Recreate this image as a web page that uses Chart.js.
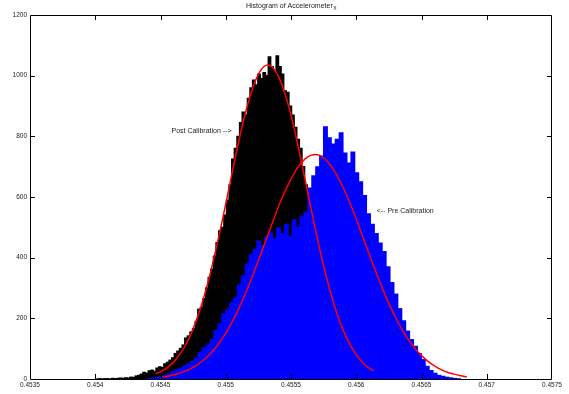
<!DOCTYPE html>
<html>
<head>
<meta charset="utf-8">
<script src="https://cdn.jsdelivr.net/npm/chart.js@4.4.1/dist/chart.umd.min.js"></script>
<style>
html,body{margin:0;padding:0;background:#fff;}
canvas{display:block;}
</style>
</head>
<body>
<canvas id="c" width="569" height="394"></canvas>
<script>
// ---------- data ----------
const titleMain = "Histogram of Accelerometer";
const titleSub = "X";
const xTickValues = [0.4535, 0.454, 0.4545, 0.455, 0.4555, 0.456, 0.4565, 0.457, 0.4575];
const yTickValues = [0, 200, 400, 600, 800, 1000, 1200];

// Post calibration histogram (black)
const postBinStart = 0.454015;
const postBinWidth = 0.00002;
const postCounts = [
  0,1,0,1,1,0,2,1,2,3,
  2,4,3,6,5,10,12,16,22,19,
  27,29,25,36,40,38,50,55,62,70,
  84,92,101,112,135,142,155,166,190,230,
  236,265,300,335,362,405,450,488,500,540,
  590,640,725,760,800,845,880,870,925,960,
  985,970,1005,990,1010,1000,1062,1030,1015,1065,
  1030,1005,950,945,900,870,830,790,760,700,
  640,590,545,500,455,420,380,345,310,280,
  250,220,195,170,150,130,112,96,82,70,
  58,48,40,33,27,22,17,13,10,7,
  5
];

// Pre calibration histogram (blue)
const preBinStart = 0.454414;
const preBinWidth = 0.00003;
const preCounts = [
  2,3,5,8,12,18,24,30,36,43,
  50,58,70,88,104,112,130,160,182,215,
  228,252,268,310,340,380,410,428,455,440,
  470,485,462,498,480,510,470,525,500,535,
  550,630,670,700,735,832,795,775,790,812,
  745,712,748,680,650,605,545,510,480,448,
  420,370,318,280,232,192,158,130,108,84,
  64,42,28,19,12,9,6,4,2,1
];

// Fitted normal curves (red)
const postFitX = [0.454463,0.454513,0.454563,0.454612,0.454662,0.454712,0.454761,0.454811,0.454861,0.454910,
  0.454960,0.455010,0.455060,0.455109,0.455159,0.455209,0.455258,0.455308,0.455358,0.455407,
  0.455457,0.455507,0.455556,0.455606,0.455656,0.455705,0.455755,0.455805,0.455854,0.455904,
  0.455954,0.456004,0.456053,0.456103,0.456133];
const postFitY = [17,27,41,62,90,128,178,240,314,400,
  496,598,703,802,891,962,1011,1034,1028,995,
  936,857,763,661,557,457,364,283,213,157,
  112,78,53,35,27];
const preFitX = [0.454513,0.454563,0.454612,0.454662,0.454712,0.454761,0.454811,0.454861,0.454910,0.454960,
  0.455010,0.455060,0.455109,0.455159,0.455209,0.455258,0.455308,0.455358,0.455407,0.455457,
  0.455507,0.455556,0.455606,0.455656,0.455705,0.455755,0.455805,0.455854,0.455904,0.455954,
  0.456004,0.456053,0.456103,0.456153,0.456202,0.456252,0.456302,0.456351,0.456401,0.456451,
  0.456501,0.456550,0.456600,0.456650,0.456699,0.456749,0.456799,0.456848];
const preFitY = [7,10,15,21,30,41,56,74,97,125,
  158,197,241,290,344,400,458,516,571,622,
  665,700,725,738,739,727,704,670,627,577,
  523,465,407,350,297,247,202,163,129,100,
  77,58,43,31,22,16,11,7];

const noteTexts = ["Post Calibration -->", "<-- Pre Calibration"];
const noteX = [0.454584, 0.456157];
const noteY = [818, 554];

// ---------- chart ----------
const FONT = '"Liberation Sans", Arial, Helvetica, sans-serif';

const postData = postCounts.map((c, i) => ({x: postBinStart + i * postBinWidth, y: c}));
const preData = preCounts.map((c, i) => ({x: preBinStart + i * preBinWidth, y: c}));
const postFit = postFitX.map((x, i) => ({x: x, y: postFitY[i]}));
const preFit = preFitX.map((x, i) => ({x: x, y: preFitY[i]}));

const framePlugin = {
  id: 'frame',
  afterDatasetsDraw(chart) {
    const {ctx, chartArea: a, scales} = chart;
    ctx.save();
    ctx.strokeStyle = '#000';
    ctx.lineWidth = 1;
    ctx.beginPath();
    ctx.rect(a.left + 0.5, a.top + 0.5, a.right - a.left - 1, a.bottom - a.top);
    ctx.stroke();
    const L = 5;
    ctx.beginPath();
    scales.x.ticks.forEach(t => {
      const px = Math.round(scales.x.getPixelForValue(t.value)) + 0.5;
      if (px < a.left + 2 || px > a.right - 2) return;
      ctx.moveTo(px, a.bottom); ctx.lineTo(px, a.bottom - L);
      ctx.moveTo(px, a.top); ctx.lineTo(px, a.top + L);
    });
    scales.y.ticks.forEach(t => {
      const py = Math.round(scales.y.getPixelForValue(t.value)) + 0.5;
      if (py < a.top + 2 || py > a.bottom - 2) return;
      ctx.moveTo(a.left, py); ctx.lineTo(a.left + L, py);
      ctx.moveTo(a.right, py); ctx.lineTo(a.right - L, py);
    });
    ctx.stroke();
    ctx.restore();
  },
  afterDraw(chart) {
    const {ctx, chartArea: a, scales} = chart;
    ctx.save();
    ctx.fillStyle = '#222';
    ctx.textAlign = 'left';
    ctx.textBaseline = 'alphabetic';
    ctx.font = '7px ' + FONT;
    const w1 = ctx.measureText(titleMain).width;
    ctx.font = '5px ' + FONT;
    const w2 = ctx.measureText(titleSub).width;
    const x0 = (a.left + a.right) / 2 - (w1 + w2) / 2;
    ctx.font = '7px ' + FONT;
    ctx.fillText(titleMain, x0, a.top - 7);
    ctx.font = '5px ' + FONT;
    ctx.fillText(titleSub, x0 + w1 + 0.5, a.top - 5);
    ctx.font = '7px ' + FONT;
    ctx.textBaseline = 'middle';
    noteTexts.forEach((t, i) => {
      ctx.fillText(t, scales.x.getPixelForValue(noteX[i]), scales.y.getPixelForValue(noteY[i]));
    });
    ctx.restore();
  }
};

new Chart(document.getElementById('c'), {
  type: 'bar',
  data: {
    datasets: [
      {
        type: 'line', data: postFit, xAxisID: 'x', yAxisID: 'y',
        borderColor: '#ff0000', borderWidth: 1.5, pointRadius: 0, fill: false,
        tension: 0.4, order: 0
      },
      {
        type: 'line', data: preFit, xAxisID: 'x', yAxisID: 'y',
        borderColor: '#ff0000', borderWidth: 1.5, pointRadius: 0, fill: false,
        tension: 0.4, order: 0
      },
      {
        type: 'bar', data: preData, xAxisID: 'x2', yAxisID: 'y',
        backgroundColor: '#0000ff', borderWidth: 0, inflateAmount: 0.5,
        barPercentage: 1, categoryPercentage: 1, grouped: false, order: 1
      },
      {
        type: 'bar', data: postData, xAxisID: 'x', yAxisID: 'y',
        backgroundColor: '#000000', borderWidth: 0, inflateAmount: 0.6,
        barPercentage: 1, categoryPercentage: 1, grouped: false, order: 2
      }
    ]
  },
  options: {
    responsive: false,
    animation: false,
    devicePixelRatio: 1,
    layout: {padding: {left: 0, right: 17, top: 15, bottom: 0}},
    plugins: {legend: {display: false}, tooltip: {enabled: false}, title: {display: false}},
    scales: {
      x: {
        type: 'linear', position: 'bottom', min: 0.4535, max: 0.4575, offset: false,
        grid: {display: false, drawTicks: false},
        border: {display: false},
        afterBuildTicks(s) { s.ticks = xTickValues.map(v => ({value: v})); },
        afterFit(s) { s.height = 15; },
        ticks: {
          autoSkip: false, maxRotation: 0, padding: 2, color: '#222',
          font: {family: FONT, size: 6.5},
          callback: v => String(+(+v).toFixed(5))
        }
      },
      x2: {
        type: 'linear', position: 'bottom', min: 0.4535, max: 0.4575, offset: false, display: false,
        grid: {display: false}
      },
      y: {
        type: 'linear', position: 'left', min: 0, max: 1200,
        grid: {display: false, drawTicks: false},
        border: {display: false},
        afterBuildTicks(s) { s.ticks = yTickValues.map(v => ({value: v})); },
        afterFit(s) { s.width = 30; },
        ticks: {
          padding: 3, color: '#222',
          font: {family: FONT, size: 6.5},
          callback: v => String(v)
        }
      }
    }
  },
  plugins: [framePlugin]
});
</script>
</body>
</html>
